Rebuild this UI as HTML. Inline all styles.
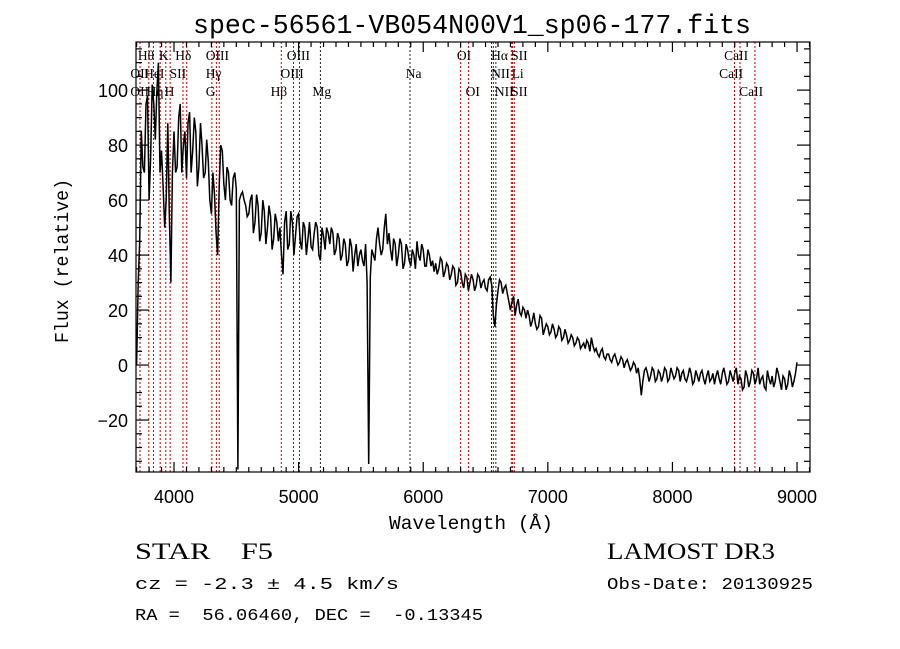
<!DOCTYPE html>
<html><head><meta charset="utf-8"><style>
html,body{margin:0;padding:0;background:#fff;}
svg{display:block;font-family:"Liberation Mono",monospace;}
text{white-space:pre;}
</style></head><body>
<svg id="c" width="900" height="649" viewBox="0 0 900 649" xml:space="preserve">
<text x="472" y="33" text-anchor="middle" font-size="27" textLength="558" lengthAdjust="spacingAndGlyphs">spec-56561-VB054N00V1_sp06-177.fits</text>
<g id="lines"></g>
<g id="labels" font-family="Liberation Serif,serif" font-size="13.5"></g>
<path id="spec" fill="none" stroke="#000" stroke-width="1.5" stroke-linejoin="miter"/>
<rect x="136" y="42" width="674" height="430" fill="none" stroke="#000" stroke-width="1.2"/>
<g id="ticks" stroke="#000" stroke-width="1.2"></g>
<g id="ticklabels" font-family="Liberation Sans,sans-serif" font-size="18"></g>
<text x="471" y="529" text-anchor="middle" font-size="19" textLength="164" lengthAdjust="spacingAndGlyphs">Wavelength (Å)</text>
<text transform="translate(68,261) rotate(-90)" text-anchor="middle" font-size="19" textLength="164" lengthAdjust="spacingAndGlyphs">Flux (relative)</text>
<text x="135" y="559" font-family="Liberation Serif,serif" font-size="23" textLength="138" lengthAdjust="spacingAndGlyphs">STAR    F5</text>
<text x="607" y="559" font-family="Liberation Serif,serif" font-size="23" textLength="168" lengthAdjust="spacingAndGlyphs">LAMOST DR3</text>
<text x="135" y="589" font-size="17" textLength="264" lengthAdjust="spacingAndGlyphs">cz = -2.3 ± 4.5 km/s</text>
<text x="607" y="589" font-size="17" textLength="206" lengthAdjust="spacingAndGlyphs">Obs-Date: 20130925</text>
<text x="135" y="620" font-size="17" textLength="348" lengthAdjust="spacingAndGlyphs">RA =  56.06460, DEC =  -0.13345</text>
</svg>
<script>
const wlStart = 3700, wlStep = 25;
const flux = [
0,45,72,95,60,102,82,110,78,50,88,30,
85,72,95,80,68,92,78,85,72,80,70,74,
55,62,40,80,66,72,60,68,64,60,63,58,
55,62,52,58,48,56,50,54,46,52,50,33,
56,44,52,47,55,42,50,46,43,48,50,38,
47,50,44,48,42,46,40,44,38,43,40,36,
42,36,30,32,40,46,44,42,55,48,38,44,
40,44,37,42,36,40,45,38,42,36,40,38,
37,35,38,34,36,33,35,30,34,28,32,30,
31,29,32,30,28,31,29,14,27,30,28,26,
20,25,22,19,21,17,18,16,15,14,17,13,
14,12,13,11,13,10,11,9,10,8,9,7,
6,8,10,5,4,5,3,4,2,3,2,1,
2,1,0,-1,0,-1,-11,-2,-3,-4,-2,-5,
-3,-4,-2,-5,-3,-4,-2,-3,-5,-4,-3,-6,
-4,-3,-5,-4,-6,-3,-4,-5,-3,-4,-6,-4,
-3,-7,-5,-8,-4,-6,-3,-5,-7,-4,-9,-5,
-4,-6,-3,-9,-5,-7,-4,-6,1];
const fluxMid = [
30,85,70,98,75,95,100,70,65,60,55,70,
70,90,70,85,88,70,90,65,88,68,82,60,
70,48,65,78,60,70,58,70,-38,62,60,54,
60,48,62,45,60,44,58,42,55,45,40,52,
42,56,40,54,45,52,40,52,42,52,40,50,
42,48,50,40,48,38,46,36,46,34,44,40,
38,44,-36,42,38,50,40,50,44,42,46,36,
46,35,44,38,42,35,40,44,36,42,36,34,
33,39,32,37,31,36,29,35,30,33,27,33,
27,33,28,31,27,32,18,22,31,26,29,23,
23,18,24,18,20,20,14,19,13,18,11,15,
11,15,10,14,9,13,8,11,7,10,6,8,
9,5,7,6,3,6,2,4,1,4,0,3,
-1,2,-2,1,-3,-5,-6,-1,-6,-1,-6,-2,
-6,-1,-6,-1,-5,-1,-6,-2,-6,-1,-7,-2,
-6,-2,-7,-2,-5,-7,-2,-7,-1,-7,-2,-6,
-1,-4,-9,-2,-8,-2,-7,-1,-5,-8,-2,-7,
-8,-1,-6,-4,-9,-2,-8,-3];
const lineWl = [3727,3798,3835,3889,3934,3969,4072,4102,4304,4340,4363,4861,4959,5007,5175,5894,6300,6364,6548,6563,6583,6707,6717,6731,8498,8542,8662];
const lineColor = ['r','r','r','r','r','r','r','r','r','r','r','r','r','r','k','k','r','r','k','r','k','r','r','r','r','r','r'];
const labelText = ['Hθ','K','Hδ','OIII','OIII','OI','Hα','SII','CaII','OII','HeI','SII','Hγ','OIII','Na','NII','Li','CaII','OII','Hη','H','G','Hβ','Mg','OI','NII','SII','CaII'];
const labelWl = [3710,3880,4010,4255,4905,6270,6545,6705,8415,3650,3760,3965,4255,4855,5860,6545,6710,8375,3650,3780,3925,4255,4775,5110,6340,6575,6705,8535];
const labelRow = [1,1,1,1,1,1,1,1,1,2,2,2,2,2,2,2,2,2,3,3,3,3,3,3,3,3,3,3];
const xTicks = [4000,5000,6000,7000,8000,9000];
const yTicks = [-20,0,20,40,60,80,100];

const X0=136,X1=810,Y0=42,Y1=472, WMIN=3695, WMAX=9104, FMIN=-38.9, FMAX=117.5;
const xs = w => X0 + (w-WMIN)/(WMAX-WMIN)*(X1-X0);
const ys = f => Y1 - (f-FMIN)/(FMAX-FMIN)*(Y1-Y0);
const NS='http://www.w3.org/2000/svg';
function mk(tag, parent, attrs){const e=document.createElementNS(NS,tag);for(const k in attrs)e.setAttribute(k,attrs[k]);parent.appendChild(e);return e;}

let d='';
flux.forEach((f,i)=>{
  const w=wlStart+i*wlStep;
  d+=(i?'L':'M')+xs(w).toFixed(1)+','+ys(f).toFixed(1);
  if(i<fluxMid.length){d+='L'+xs(w+wlStep/2).toFixed(1)+','+ys(fluxMid[i]).toFixed(1);}
});
document.getElementById('spec').setAttribute('d',d);

const gl=document.getElementById('lines');
lineWl.forEach((w,i)=>{
  const l=mk('line',gl,{x1:xs(w),x2:xs(w),y1:Y0,y2:Y1,stroke:lineColor[i]==='r'?'#c00000':'#222','stroke-width':1,'stroke-dasharray':'2,2'});
  
  
});
const glb=document.getElementById('labels');
labelText.forEach((t,i)=>{
  const e=mk('text',glb,{x:xs(labelWl[i]),y:42+labelRow[i]*18});
  e.textContent=t;
  
  
});
const gt=document.getElementById('ticks'), gtl=document.getElementById('ticklabels');
for(let w=3700;w<=9100;w+=100){
  const major=w%1000===0, len=major?10:5, x=xs(w);
  mk('line',gt,{x1:x,x2:x,y1:Y1,y2:Y1-len});
  mk('line',gt,{x1:x,x2:x,y1:Y0,y2:Y0+len});
}
for(let f=-35;f<=115;f+=5){
  const major=f%20===0, len=major?13:6, y=ys(f);
  mk('line',gt,{x1:X0,x2:X0+len,y1:y,y2:y});
  mk('line',gt,{x1:X1,x2:X1-len,y1:y,y2:y});
}
xTicks.forEach(v=>{
  const e=mk('text',gtl,{x:xs(v),y:503,'text-anchor':'middle'});
  e.textContent=v;
  
  
});
yTicks.forEach(v=>{
  const e=mk('text',gtl,{x:128,y:ys(v)+7,'text-anchor':'end'});
  e.textContent=v<0?'−'+(-v):v;
  
  
});
</script>
</body></html>
